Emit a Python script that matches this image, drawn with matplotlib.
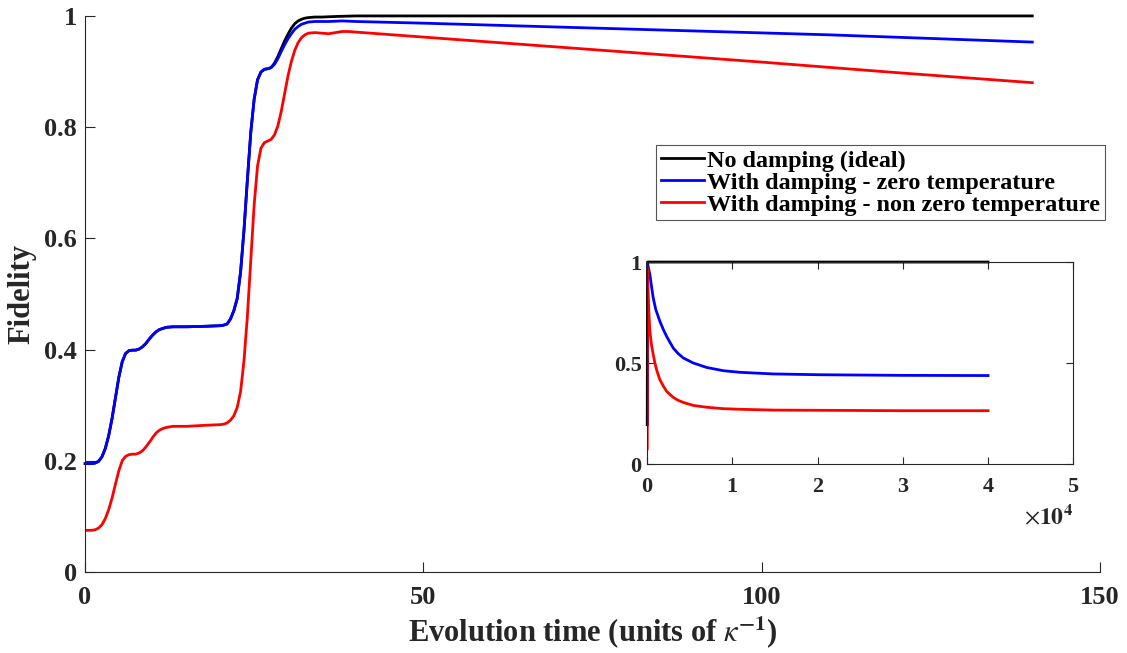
#!/usr/bin/env python3

import matplotlib
matplotlib.use("Agg")
import matplotlib.pyplot as plt
from matplotlib.ticker import ScalarFormatter

plt.rcParams['font.family'] = ['Liberation Serif', 'DejaVu Serif']
plt.rcParams['mathtext.fontset'] = 'stix'

# main panel: fidelity vs evolution time (units of 1/kappa)
t_ideal = [0, 1, 1.5, 2, 2.5, 3, 3.5, 4, 4.5, 5, 5.5, 6, 6.5, 7, 7.5, 8, 8.5, 9, 9.5, 10,
           10.5, 11, 11.5, 12, 13, 15, 18, 20, 20.5, 21, 21.5, 22, 22.5, 23, 23.5, 24, 24.5,
           25, 25.5, 26, 26.5, 27, 27.5, 28, 28.5, 29, 29.5, 30, 30.5, 31, 31.5, 32, 32.5,
           33, 34, 35, 37, 40, 60, 80, 100, 120, 140]
f_ideal = [0.195, 0.195, 0.196, 0.199, 0.207, 0.222, 0.245, 0.276, 0.313, 0.350, 0.378,
           0.393, 0.398, 0.399, 0.399, 0.401, 0.405, 0.411, 0.419, 0.426, 0.432, 0.436,
           0.438, 0.440, 0.441, 0.441, 0.442, 0.443, 0.444, 0.446, 0.455, 0.470, 0.492,
           0.540, 0.615, 0.705, 0.790, 0.850, 0.885, 0.899, 0.904, 0.905, 0.907, 0.915,
           0.927, 0.941, 0.955, 0.967, 0.978, 0.986, 0.991, 0.994, 0.996, 0.997, 0.998,
           0.998, 0.999, 1.0, 1.0, 1.0, 1.0, 1.0, 1.0]

t_zero = [0, 1, 1.5, 2, 2.5, 3, 3.5, 4, 4.5, 5, 5.5, 6, 6.5, 7, 7.5, 8, 8.5, 9, 9.5, 10,
          10.5, 11, 11.5, 12, 13, 15, 18, 20, 20.5, 21, 21.5, 22, 22.5, 23, 23.5, 24, 24.5,
          25, 25.5, 26, 26.5, 27, 27.5, 28, 28.5, 29, 29.5, 30, 30.5, 31, 31.5, 32, 32.5,
          33, 34, 36, 38, 40, 50, 70, 90, 110, 140]
f_zero = [0.195, 0.195, 0.196, 0.199, 0.207, 0.222, 0.245, 0.276, 0.313, 0.350, 0.378,
          0.393, 0.398, 0.399, 0.399, 0.401, 0.405, 0.411, 0.419, 0.426, 0.432, 0.436,
          0.438, 0.440, 0.441, 0.441, 0.442, 0.443, 0.444, 0.446, 0.455, 0.470, 0.492,
          0.540, 0.615, 0.705, 0.790, 0.850, 0.885, 0.899, 0.904, 0.905, 0.907, 0.913,
          0.923, 0.936, 0.948, 0.959, 0.968, 0.976, 0.981, 0.985, 0.987, 0.989, 0.990,
          0.990, 0.991, 0.990, 0.987, 0.980, 0.973, 0.966, 0.953]

t_warm = [0, 1, 1.5, 2, 2.5, 3, 3.5, 4, 4.5, 5, 5.5, 6, 6.5, 7, 7.5, 8, 8.5, 9, 9.5, 10,
          10.5, 11, 11.5, 12, 13, 15, 18, 20, 20.5, 21, 21.5, 22, 22.5, 23, 23.5, 24, 24.5,
          25, 25.5, 26, 26.5, 27, 27.5, 28, 28.5, 29, 29.5, 30, 30.5, 31, 31.5, 32, 32.5,
          33, 34, 35, 36, 37, 38, 39, 40, 60, 80, 100, 120, 140]
f_warm = [0.075, 0.075, 0.076, 0.079, 0.085, 0.096, 0.112, 0.133, 0.158, 0.182, 0.200,
          0.208, 0.211, 0.212, 0.212, 0.214, 0.218, 0.225, 0.233, 0.242, 0.250, 0.255,
          0.258, 0.260, 0.262, 0.262, 0.264, 0.265, 0.266, 0.268, 0.273, 0.281, 0.296,
          0.325, 0.380, 0.460, 0.560, 0.660, 0.730, 0.762, 0.772, 0.775, 0.778, 0.786,
          0.802, 0.828, 0.860, 0.892, 0.918, 0.938, 0.952, 0.961, 0.966, 0.969, 0.970,
          0.969, 0.968, 0.970, 0.972, 0.972, 0.971, 0.953, 0.935, 0.917, 0.898, 0.880]

# inset: long time behaviour
ti_ideal = [0, 35, 300, 40000]
fi_ideal = [0.195, 1.0, 1.0, 1.0]

ti_zero = [0, 40, 150, 314, 500, 706, 1000, 1490, 1900, 2275, 2700, 3059, 3600, 4235,
           5412, 6980, 8941, 10900, 14820, 20300, 30000, 40000]
fi_zero = [0.195, 0.99, 0.97, 0.937, 0.88, 0.822, 0.765, 0.706, 0.665, 0.632, 0.60, 0.574,
           0.548, 0.525, 0.50, 0.478, 0.462, 0.454, 0.446, 0.442, 0.439, 0.438]

ti_warm = [0, 40, 100, 200, 314, 500, 706, 900, 1098, 1300, 1490, 1900, 2275, 2700, 3059,
           3600, 4235, 5412, 6980, 8941, 10900, 14820, 20300, 30000, 40000]
fi_warm = [0.075, 0.97, 0.86, 0.74, 0.657, 0.59, 0.541, 0.50, 0.467, 0.44, 0.417, 0.385,
           0.36, 0.343, 0.330, 0.316, 0.305, 0.29, 0.281, 0.274, 0.271, 0.267, 0.266, 0.264,
           0.264]

labels = ["No damping (ideal)", "With damping - zero temperature",
          "With damping - non zero temperature"]
colors = ["black", "blue", "red"]

xticks = [0, 50, 100, 150]
yticks = [0, 0.2, 0.4, 0.6, 0.8, 1]
yticklabels = ["0", "0.2", "0.4", "0.6", "0.8", "1"]
inset_yticks = [0, 0.5, 1]
inset_yticklabels = ["0", "0.5", "1"]
inset_xticks = [0, 10000, 20000, 30000, 40000, 50000]

grey = "#262626"
lw = 2.0

fig = plt.figure(figsize=(11.27, 6.53), dpi=100)
ax = fig.add_axes([0.0754, 0.124, 0.9006, 0.8516])

ax.plot(t_ideal, f_ideal, color=colors[0], lw=lw, label=labels[0], clip_on=False)
ax.plot(t_zero, f_zero, color=colors[1], lw=lw, label=labels[1])
ax.plot(t_warm, f_warm, color=colors[2], lw=lw, label=labels[2])

ax.set_xlim(0, 150)
ax.set_ylim(0, 1)
ax.set_xticks(xticks)
ax.set_yticks(yticks)
ax.set_yticklabels(yticklabels)
ax.spines['top'].set_visible(False)
ax.spines['right'].set_visible(False)
for s in ['left', 'bottom']:
    ax.spines[s].set_color(grey)
    ax.spines[s].set_linewidth(0.8)
ax.tick_params(direction='in', length=7, width=0.8, color=grey, labelcolor=grey,
               labelsize=19, pad=6)
ax.tick_params(axis='x', pad=10)
for lab in ax.get_xticklabels() + ax.get_yticklabels():
    lab.set_fontweight('bold')
ax.set_xlabel(r"Evolution time (units of $\kappa^{\mathbf{-1}}$)", fontsize=22,
              fontweight='bold', color=grey, labelpad=4)
ax.set_ylabel("Fidelity", fontsize=22, fontweight='bold', color=grey, labelpad=5)

leg = ax.legend(loc='upper right', bbox_to_anchor=(0.9805, 0.778),
                bbox_transform=fig.transFigure, fancybox=False, framealpha=1,
                edgecolor='#555555', handlelength=1.75, handletextpad=0.15,
                borderpad=0.2, labelspacing=0.0, borderaxespad=0,
                prop={'size': 17.4, 'weight': 'bold'})
leg.get_frame().set_linewidth(0.8)

# inset
ins = fig.add_axes([0.5743, 0.2894, 0.3780, 0.3093])
ins.plot(ti_ideal, fi_ideal, color=colors[0], lw=lw, clip_on=False)
ins.plot(ti_zero, fi_zero, color=colors[1], lw=lw)
ins.plot(ti_warm, fi_warm, color=colors[2], lw=lw)
ins.set_xlim(0, 50000)
ins.set_ylim(0, 1)
ins.set_xticks(inset_xticks)
ins.set_yticks(inset_yticks)
ins.set_yticklabels(inset_yticklabels)
fmt = ScalarFormatter(useMathText=True)
fmt.set_powerlimits((-3, 4))
ins.xaxis.set_major_formatter(fmt)
ins.xaxis.get_offset_text().set_visible(False)
for s in ins.spines.values():
    s.set_color(grey)
    s.set_linewidth(0.8)
ins.tick_params(direction='in', length=5, width=0.8, color=grey, labelcolor=grey,
                labelsize=16, top=True, right=True, pad=4)
ins.tick_params(axis='x', pad=9)
for lab in ins.get_xticklabels() + ins.get_yticklabels():
    lab.set_fontweight('bold')
ins.text(1.0, -0.3, r"$\times\mathbf{10^{4}}$", transform=ins.transAxes,
         ha='right', va='baseline', fontsize=17, color=grey)

plt.savefig("out.png", dpi=100)
